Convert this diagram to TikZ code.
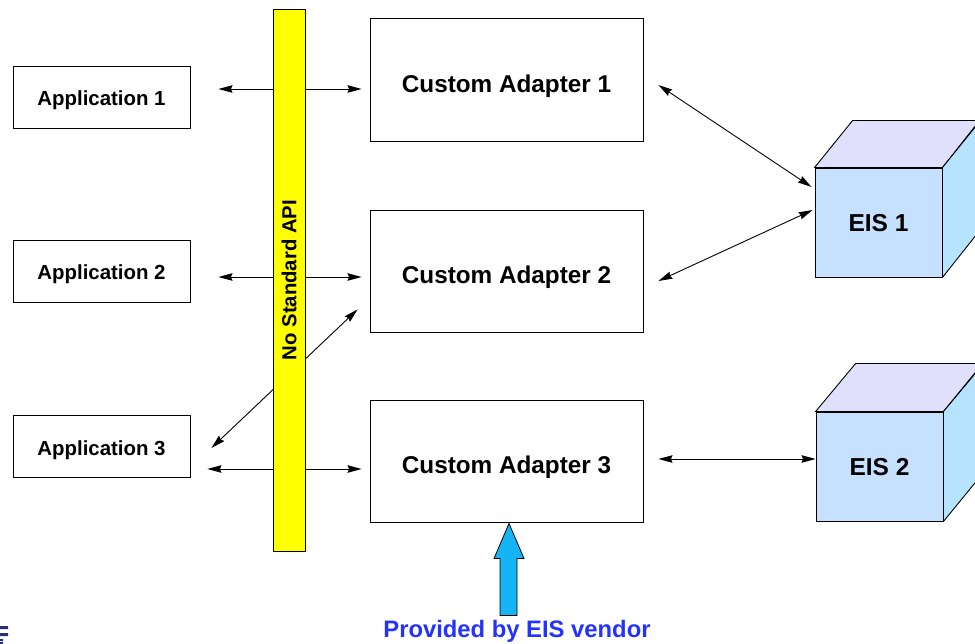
\documentclass[tikz,border=0pt]{standalone}
\usepackage{fontspec}
\setmainfont{Liberation Sans}
\usetikzlibrary{arrows.meta,backgrounds}

\definecolor{barYellow}{RGB}{255,255,0}
\definecolor{cubeFront}{RGB}{198,224,255}
\definecolor{cubeTop}{RGB}{224,224,252}
\definecolor{cubeSide}{RGB}{182,228,255}
\definecolor{vendorArrow}{RGB}{20,180,245}
\definecolor{vendorText}{RGB}{35,50,255}
\definecolor{logoNavy}{RGB}{44,44,120}

\tikzset{
  appbox/.style={draw=black, line width=0.9pt, fill=white, inner sep=0pt,
    minimum width=177pt, minimum height=62pt,
    text height=17.6pt, text depth=0pt,
    font=\fontsize{20.4}{24}\selectfont\bfseries},
  adapterbox/.style={draw=black, line width=0.9pt, fill=white, inner sep=0pt,
    minimum width=273pt, minimum height=122pt,
    text height=25.4pt, text depth=0pt,
    font=\fontsize{24.3}{28}\selectfont\bfseries},
  apibar/.style={draw=black, line width=0.9pt, fill=barYellow, inner sep=0pt,
    rotate=90, minimum width=542pt, minimum height=32pt,
    font=\fontsize{20.3}{24}\selectfont\bfseries},
  cubefront/.style={draw=black, line width=0.9pt, fill=cubeFront, inner sep=0pt,
    minimum width=127pt, minimum height=109pt,
    text height=17.5pt, text depth=0pt,
    font=\fontsize{24.5}{28}\selectfont\bfseries},
  cubeface/.style={draw=black, line width=0.9pt, line join=round},
  biarrow/.style={line width=0.9pt,
    {Stealth[length=14pt,width=7.5pt,inset=1.5pt]}-{Stealth[length=14pt,width=7.5pt,inset=1.5pt]}},
}

\begin{document}
\begin{tikzpicture}[x=1pt, y=-1pt]
  \useasboundingbox (0,0) rectangle (975,644);
  \clip (0,0) rectangle (975,644);

  % applications
  \node[appbox] (app1) at (101.5,97)   {Application 1};
  \node[appbox] (app2) at (101.5,271)  {Application 2};
  \node[appbox] (app3) at (101.5,446.5){Application 3};

  % custom adapters
  \node[adapterbox, minimum height=123pt] (ca1) at (506.5,79.5) {Custom Adapter 1};
  \node[adapterbox] (ca2) at (506.5,271) {Custom Adapter 2};
  \node[adapterbox] (ca3) at (506.5,461) {Custom Adapter 3};

  % EIS cubes: front face as node, top and side faces from its corners
  \node[cubefront] (eis1) at (878.5,222.5) {EIS 1};
  \filldraw[cubeface, fill=cubeTop]
    (eis1.north west) -- ++(38,-47) -- ++(127,0) -- (eis1.north east) -- cycle;
  \filldraw[cubeface, fill=cubeSide]
    (eis1.north east) -- ++(38,-47) -- ++(0,109) -- (eis1.south east) -- cycle;

  \node[cubefront] (eis2) at (879.5,466.5) {EIS 2};
  \filldraw[cubeface, fill=cubeTop]
    (eis2.north west) -- ++(40,-48) -- ++(127,0) -- (eis2.north east) -- cycle;
  \filldraw[cubeface, fill=cubeSide]
    (eis2.north east) -- ++(40,-48) -- ++(0,109) -- (eis2.south east) -- cycle;

  % connectors, passing behind the API bar
  \begin{scope}[on background layer]
    \draw[biarrow] ([shift={(28,-8)}]app1.east) -- ([shift={(-8,9.5)}]ca1.west);
    \draw[biarrow] ([shift={(28,6)}]app2.east) -- ([shift={(-8,6)}]ca2.west);
    \draw[biarrow] ([shift={(17,22.5)}]app3.east) -- ([shift={(-8,8)}]ca3.west);
    \draw[biarrow] ([shift={(21,1.5)}]app3.east) -- ([shift={(-12,-23)}]ca2.south west);
  \end{scope}
  \draw[biarrow] ([shift={(15,5.5)}]ca1.east) -- ([shift={(-3,-35.5)}]eis1.west);
  \draw[biarrow] ([shift={(15,10)}]ca2.east) -- ([shift={(-2,-12.5)}]eis1.west);
  \draw[biarrow] ([shift={(15,-2)}]ca3.east) -- ([shift={(0,-7.5)}]eis2.west);

  % the API bar
  \node[apibar] (api) at (289,280) {No Standard API};

  % vendor block arrow
  \coordinate (tip) at ([shift={(2.5,1)}]ca3.south);
  \filldraw[draw=black, line width=0.8pt, fill=vendorArrow, line join=miter]
    (tip) -- ++(15,35) -- ++(-7,0) -- ++(0,57) -- ++(-17,0) -- ++(0,-57)
    -- ++(-6,0) -- cycle;
  \node[text=vendorText, anchor=base, inner sep=0pt,
        font=\fontsize{23.8}{28}\selectfont\bfseries]
    (vendor) at (517,637) {Provided by EIS vendor};

  % corner logo fragment
  \fill[logoNavy] (0,626) rectangle (8,629) (0,633) rectangle (8,636)
    (0,639) rectangle (3,641) (0,642) rectangle (3,644);
\end{tikzpicture}
\end{document}
